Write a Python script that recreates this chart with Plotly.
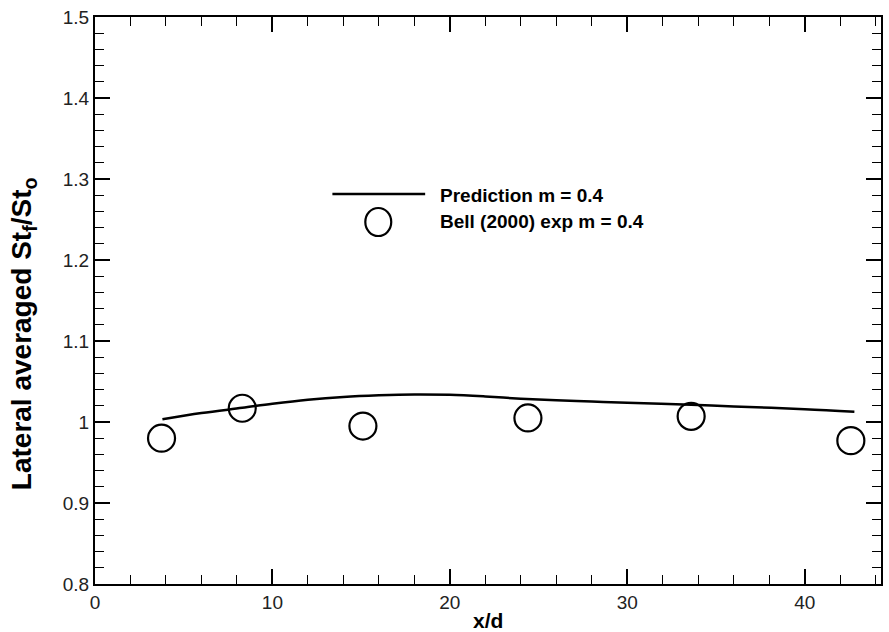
import plotly.graph_objects as go

# Prediction curve (m = 0.4)
pred_x = [3.8, 6.0, 8.3, 10.0, 12.0, 14.0, 16.0, 18.0, 20.0, 22.0, 24.0, 26.0, 28.0, 30.0, 33.6, 36.0, 40.0, 42.8]
pred_y = [1.0033, 1.011, 1.0175, 1.0225, 1.0275, 1.031, 1.033, 1.034, 1.0335, 1.0315, 1.0288, 1.0268, 1.0252, 1.0238, 1.0212, 1.0192, 1.0158, 1.0127]

# Bell (2000) experiment
exp_x = [3.75, 8.3, 15.1, 24.4, 33.6, 42.6]
exp_y = [0.980, 1.017, 0.995, 1.005, 1.007, 0.977]

legend_labels = ["Prediction m = 0.4", "Bell (2000) exp m = 0.4"]
x_title = "x/d"
y_title = "Lateral averaged St<sub>f</sub>/St<sub>o</sub>"

FONT = "Liberation Sans, Arial, sans-serif"

# plot-area pixel geometry (for placing decorations in paper coords)
L, R, T, B = 95, 883, 17, 584
W, H = R - L, B - T


def px(x):
    return (x - L) / W


def py(y):
    return (B - y) / H


fig = go.Figure()
fig.add_trace(go.Scatter(x=pred_x, y=pred_y, mode="lines",
                         line=dict(color="black", width=2.5, shape="spline"),
                         name=legend_labels[0], showlegend=False))
fig.add_trace(go.Scatter(x=exp_x, y=exp_y, mode="markers",
                         marker=dict(symbol="circle-open", size=27, color="black",
                                     line=dict(width=2.2, color="black")),
                         name=legend_labels[1], showlegend=False))

# Legend drawn manually (line above circle)
fig.add_shape(type="line", xref="paper", yref="paper",
              x0=px(333), x1=px(426), y0=py(194), y1=py(194),
              line=dict(color="black", width=2.5))
fig.add_shape(type="circle", xref="paper", yref="paper",
              x0=px(366), x1=px(392), y0=py(236), y1=py(208),
              line=dict(color="black", width=2.2))
fig.add_annotation(xref="paper", yref="paper", x=px(439), y=py(195),
                   text=legend_labels[0], showarrow=False, xanchor="left", yanchor="middle",
                   font=dict(family=FONT, size=19, color="black", weight="bold"))
fig.add_annotation(xref="paper", yref="paper", x=px(439), y=py(221),
                   text=legend_labels[1], showarrow=False, xanchor="left", yanchor="middle",
                   font=dict(family=FONT, size=19, color="black", weight="bold"))

# Axis titles
fig.add_annotation(xref="paper", yref="paper", x=px(489), y=py(620),
                   text=x_title, showarrow=False, xanchor="center", yanchor="middle",
                   font=dict(family=FONT, size=21, color="black", weight="bold"))
fig.add_annotation(xref="paper", yref="paper", x=px(23), y=py(334),
                   text=y_title, showarrow=False, xanchor="center", yanchor="middle",
                   textangle=-90,
                   font=dict(family=FONT, size=28, color="black", weight="bold"))

axis_common = dict(
    showline=True, linecolor="black", linewidth=2, mirror="allticks",
    ticks="inside", ticklen=15, tickwidth=2, tickcolor="black",
    showgrid=False, zeroline=False,
    tickfont=dict(family=FONT, size=19, color="#222"),
)

fig.update_xaxes(range=[0, 44.3], tick0=0, dtick=10,
                 minor=dict(ticks="inside", ticklen=9, tickwidth=1, tickcolor="black", dtick=2, showgrid=False),
                 **axis_common)
fig.update_yaxes(range=[0.8, 1.5], tick0=0.8, dtick=0.1, tickformat="~g",
                 minor=dict(ticks="inside", ticklen=9, tickwidth=1, tickcolor="black", dtick=0.02, showgrid=False),
                 **axis_common)

fig.update_layout(width=889, height=632, margin=dict(l=L, r=889 - R, t=T, b=632 - B),
                  paper_bgcolor="white", plot_bgcolor="white", showlegend=False)

fig.write_html("out.html")
